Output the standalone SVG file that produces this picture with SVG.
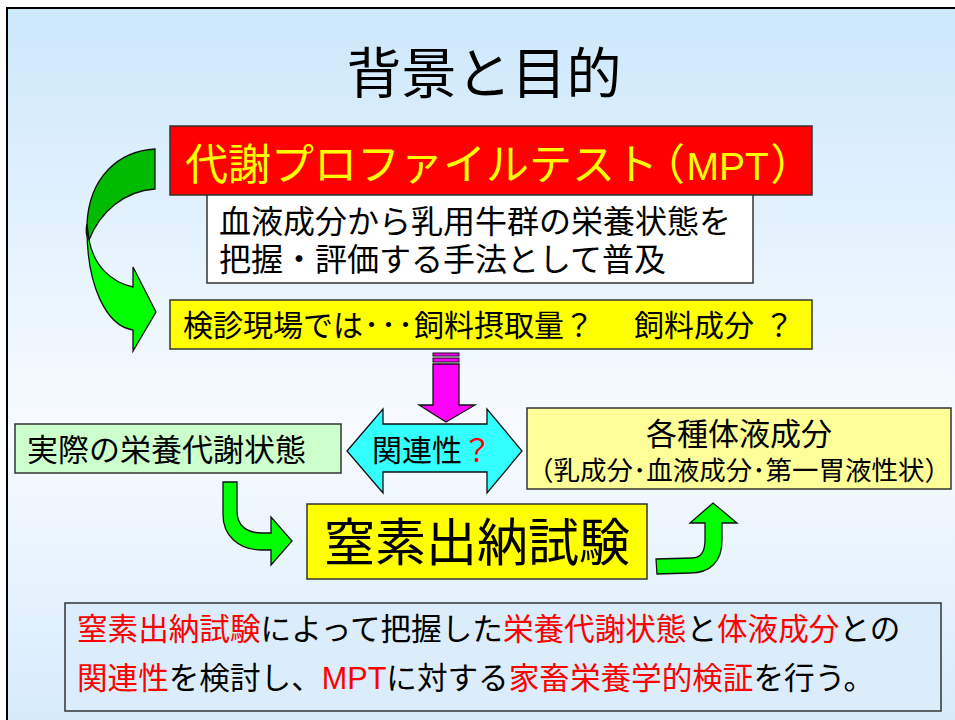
<svg xmlns="http://www.w3.org/2000/svg" width="955" height="720" viewBox="0 0 955 720">
<defs>
<linearGradient id="bg" x1="0" y1="0" x2="0" y2="1">
<stop offset="0" stop-color="#cce8fb"/>
<stop offset="0.58" stop-color="#f8fbff"/>
<stop offset="1" stop-color="#d3eafb"/>
</linearGradient>
<style>
.jp{font-family:"Noto Sans CJK JP","Noto Sans CJK SC",sans-serif;}
.lat{font-family:"Liberation Sans",Arial,sans-serif;}
.palt{font-feature-settings:"palt" 1;}
.box{stroke:#333;stroke-width:1.5;}
.arr{stroke:#111;stroke-width:1.3;stroke-linejoin:miter;}
.red{fill:#ff0000;}
.blk{fill:#000;}
</style>
</defs>
<rect x="0" y="0" width="955" height="720" fill="#fff"/>
<rect x="7" y="8" width="970" height="730" fill="url(#bg)" stroke="#000" stroke-width="2"/>

<text class="jp" x="484" y="93" font-size="55" text-anchor="middle" fill="#000">背景と目的</text>

<g id="connectors">
<g id="curve-arrow-left">
<path class="arr" fill="#00bb00" d="M155,149 L155,189 C124,191 100,212 89,240 C85,234 86,228 87,224 C89,178 118,151 155,149 Z"/>
<path class="arr" fill="#00ff00" d="M87,224 C86,287 107,326 133,330 L133,351 L156,312 L133,267 L133,287 C111,282 94,266 89,240 Z"/>
</g>
<path id="arrow-magenta" class="arr" fill="#ff00ff" d="M433,364 L459,364 L459,405 L475,405 L446,422 L419,405 L433,405 Z"/>
<rect x="433" y="353" width="26" height="3" fill="#ff00ff" stroke="#111" stroke-width="1"/>
<rect x="433" y="358" width="26" height="4" fill="#ff00ff" stroke="#111" stroke-width="1"/>
<path id="arrow-green-1" class="arr" fill="#00ff00" d="M223,482 L237,482 L237,511 C237,526 247,533 262,533 L271,533 L271,517 L292,541 L271,565 L271,550 L262,550 C238,550 223,535 223,515 Z"/>
<path id="arrow-green-2" class="arr" fill="#00ff00" d="M656,559 L692,558 C701,558 705,552 705,540 L705,523 L690,523 L713,503 L737,523 L722,523 L722,540 C722,562 710,573 690,573 L657,574 Z"/>
</g>

<g id="node-mpt">
<rect class="box" x="170" y="126" width="642" height="69" fill="#ff0000"/>
<text class="jp" x="185" y="180" font-size="43" fill="#ffff00">代謝プロファイルテスト<tspan class="palt" dx="4">（</tspan><tspan class="lat" font-size="39" dx="3">MPT</tspan><tspan class="palt" dx="3">）</tspan></text>
</g>

<g id="node-desc">
<rect class="box" x="207" y="195" width="546" height="88" fill="#ffffff"/>
<text class="jp" x="219" y="233" font-size="32" fill="#000">血液成分から乳用牛群の栄養状態を</text>
<text class="jp" x="219" y="271" font-size="32" fill="#000">把握・評価する手法として普及</text>
</g>

<g id="node-field">
<rect class="box" x="170" y="300" width="642" height="49" fill="#ffff00"/>
<text class="jp" y="336" font-size="30" fill="#000"><tspan x="183">検診現場では</tspan><tspan x="364">･</tspan><tspan x="381">･</tspan><tspan x="398">･</tspan><tspan x="414">飼料摂取量？</tspan><tspan x="634">飼料成分</tspan><tspan x="764">？</tspan></text>
</g>

<g id="node-relation">
<path class="arr" fill="#33ffff" d="M347,451 L383,409 L383,424 L487,424 L487,409 L522,451 L487,493 L487,472 L383,472 L383,493 Z"/>
<text class="jp" x="372" y="461" font-size="30" fill="#000">関連性<tspan fill="#ff0000">？</tspan></text>
</g>

<g id="node-actual">
<rect class="box" x="15" y="424" width="326" height="49" fill="#ccffcc"/>
<text class="jp" x="27" y="461" font-size="31" fill="#000">実際の栄養代謝状態</text>
</g>

<g id="node-fluid">
<rect class="box" x="527" y="408" width="424" height="81" fill="#ffff99"/>
<text class="jp" x="739" y="445" font-size="31" text-anchor="middle" fill="#000">各種体液成分</text>
<text class="jp" x="739" y="480" font-size="26.5" text-anchor="middle" fill="#000">（乳成分･血液成分･第一胃液性状）</text>
</g>

<g id="node-nitrogen">
<rect class="box" x="307" y="504" width="340" height="75" fill="#ffff00"/>
<text class="jp" x="477" y="561" font-size="51" text-anchor="middle" fill="#000">窒素出納試験</text>
</g>

<g id="node-purpose">
<rect class="box" x="65" y="603" width="876" height="108" fill="#dbedfa"/>
<text class="jp" x="77" y="640" font-size="30.6"><tspan class="red">窒素出納試験</tspan><tspan class="blk">によって把握した</tspan><tspan class="red">栄養代謝状態</tspan><tspan class="blk">と</tspan><tspan class="red">体液成分</tspan><tspan class="blk">との</tspan></text>
<text class="jp" x="77" y="689" font-size="30.6"><tspan class="red">関連性</tspan><tspan class="blk">を検討し、</tspan><tspan class="red lat">MPT</tspan><tspan class="blk">に対する</tspan><tspan class="red">家畜栄養学的検証</tspan><tspan class="blk">を行う。</tspan></text>
</g>
</svg>
